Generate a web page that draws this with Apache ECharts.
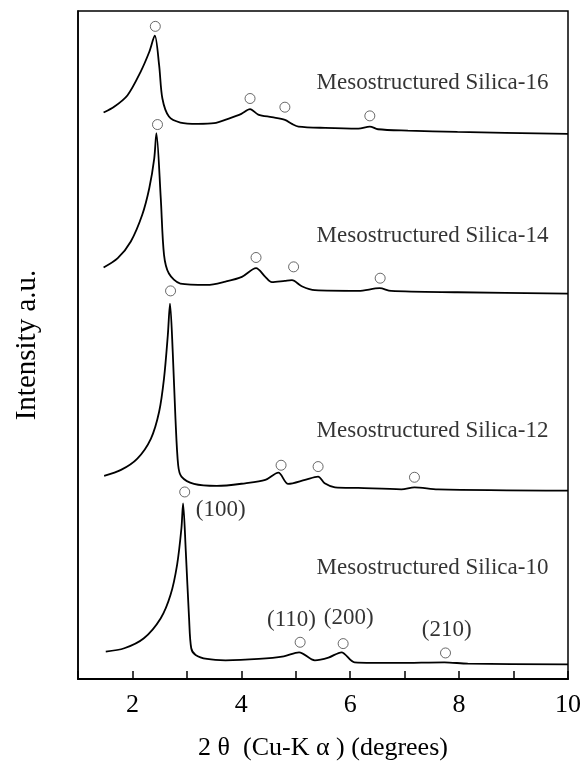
<!DOCTYPE html>
<html>
<head>
<meta charset="utf-8">
<script src="https://cdn.jsdelivr.net/npm/echarts@6/dist/echarts.min.js"></script>
<style>html,body{margin:0;padding:0;background:#fff}#c{width:586px;height:763px}</style>
</head>
<body>
<div id="c"></div>
<script>
// 2θ (degrees), intensity in arbitrary units (curves vertically offset)
const silica16 = [[1.47,84.8],[1.67,85.7],[1.91,87.4],[2.15,90.9],[2.31,93.9],[2.41,96.3],[2.49,91.9],[2.55,86.9],[2.67,84.2],[2.88,83.3],[3.2,83.1],[3.5,83.2],[3.77,83.9],[4.0,84.6],[4.16,85.3],[4.31,84.5],[4.56,84.1],[4.80,83.7],[4.93,83.1],[5.05,82.7],[5.54,82.5],[6.15,82.4],[6.36,82.7],[6.51,82.3],[7.06,82.1],[7.97,81.9],[10,81.6]];
const silica14 = [[1.47,61.6],[1.73,63.0],[1.97,65.5],[2.18,69.5],[2.31,73.5],[2.40,77.9],[2.44,81.7],[2.52,72.0],[2.58,63.5],[2.67,60.7],[2.88,59.2],[3.37,59.0],[3.71,59.5],[4.01,60.2],[4.27,61.5],[4.44,60.2],[4.56,59.4],[4.80,59.6],[4.93,59.7],[5.11,58.8],[5.35,58.2],[6.15,58.1],[6.54,58.5],[6.75,58.1],[7.97,57.9],[10,57.7]];
const silica12 = [[1.48,30.4],[1.79,31.3],[2.09,33.0],[2.34,36.0],[2.49,40.0],[2.58,45.0],[2.65,51.5],[2.69,56.2],[2.74,49.0],[2.79,39.0],[2.84,32.0],[2.90,30.3],[3.13,29.2],[3.55,28.9],[4.07,29.3],[4.44,29.8],[4.68,30.9],[4.86,29.2],[5.17,29.8],[5.41,30.3],[5.53,29.3],[5.72,28.7],[6.15,28.6],[6.94,28.4],[7.18,28.7],[7.61,28.4],[10,28.2]];
const silica10 = [[1.51,4.1],[1.85,4.6],[2.21,6.1],[2.52,9.1],[2.70,12.6],[2.82,17.1],[2.90,22.6],[2.93,26.3],[2.98,19.1],[3.04,9.1],[3.08,4.6],[3.16,3.6],[3.37,3.0],[3.71,2.8],[4.32,3.0],[4.78,3.4],[5.06,4.0],[5.35,2.8],[5.60,3.2],[5.84,4.0],[6.08,2.5],[6.88,2.4],[7.73,2.5],[8.16,2.3],[10,2.2]];

// open-circle reflection markers
const markers = [[2.42,97.7],[4.16,86.9],[4.80,85.6],[6.36,84.3],
                 [2.46,83.0],[4.27,63.1],[4.96,61.7],[6.55,60.0],
                 [2.70,58.1],[4.73,32.0],[5.41,31.8],[7.18,30.2],
                 [2.96,28.0],[5.08,5.5],[5.87,5.3],[7.75,3.9]];

// sample names (right-aligned anchor)
const sampleNames = ['Mesostructured Silica-16','Mesostructured Silica-14','Mesostructured Silica-12','Mesostructured Silica-10'];
const sampleLabelPos = [[9.65,89.2],[9.65,66.3],[9.65,37.0],[9.65,16.6]];

// Miller indices (centre anchor)
const hklNames = ['(100)','(110)','(200)','(210)'];
const hklPos = [[3.63,25.3],[4.93,8.8],[5.98,9.1],[7.78,7.3]];

const xTicks = [2,4,6,8,10];
const FONT = '"Liberation Serif","Times New Roman",serif';

const chart = echarts.init(document.getElementById('c'), null, {renderer:'canvas'});
const lineSeries = [silica16, silica14, silica12, silica10].map(d => ({
  type:'line', data:d, showSymbol:false, smooth:0.3,
  lineStyle:{color:'#000', width:1.8}, silent:true, z:2
}));
chart.setOption({
  animation:false,
  backgroundColor:'#fff',
  grid:{left:78, right:18, top:11, bottom:84, outerBoundsMode:'none', containLabel:false,
    show:true, borderColor:'#000', borderWidth:1.5, backgroundColor:'transparent'},
  xAxis:{type:'value', min:1, max:10, interval:1,
    axisLine:{show:true, lineStyle:{color:'#000', width:2}},
    axisTick:{show:true, inside:true, length:8, lineStyle:{color:'#000', width:1.5}},
    splitLine:{show:false},
    axisLabel:{fontFamily:FONT, fontSize:26, color:'#000', margin:13,
      formatter:v => xTicks.indexOf(v) >= 0 ? String(v) : ''},
    name:'2 θ  (Cu-K α ) (degrees)', nameLocation:'middle', nameGap:56,
    nameTextStyle:{fontFamily:FONT, fontSize:26, color:'#000'}
  },
  yAxis:{type:'value', min:0, max:100,
    axisLine:{show:true, lineStyle:{color:'#000', width:1.5}},
    axisTick:{show:false}, axisLabel:{show:false}, splitLine:{show:false},
    name:'Intensity a.u.', nameLocation:'middle', nameGap:36,
    nameTextStyle:{fontFamily:FONT, fontSize:29, color:'#000'}
  },
  series: lineSeries.concat([
    {type:'scatter', data:markers, symbol:'circle', symbolSize:10,
     itemStyle:{color:'#fff', borderColor:'#444', borderWidth:1}, z:3},
    {type:'scatter', data:sampleLabelPos.map((p,i)=>({value:p, name:sampleNames[i]})),
     symbolSize:1, itemStyle:{color:'rgba(0,0,0,0)'},
     label:{show:true, formatter:'{b}', position:[0,0], align:'right', verticalAlign:'middle',
       fontFamily:FONT, fontSize:23, color:'#000'}, z:4},
    {type:'scatter', data:hklPos.map((p,i)=>({value:p, name:hklNames[i]})),
     symbolSize:1, itemStyle:{color:'rgba(0,0,0,0)'},
     label:{show:true, formatter:'{b}', position:[0,0], align:'center', verticalAlign:'middle',
       fontFamily:FONT, fontSize:23, color:'#000'}, z:4}
  ])
});
</script>
</body>
</html>
